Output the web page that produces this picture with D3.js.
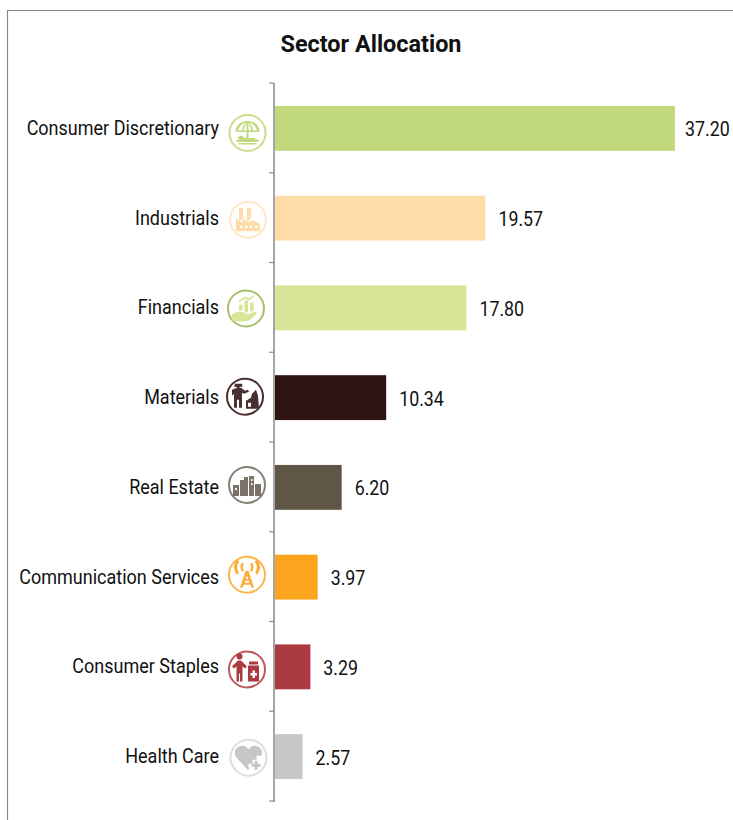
<!DOCTYPE html>
<html>
<head>
<meta charset="utf-8">
<script src="https://cdn.jsdelivr.net/npm/d3@7"></script>
<style>
  html, body { margin: 0; padding: 0; background: #fff; }
  svg { display: block; }
  text { font-family: "Roboto", "Liberation Sans", sans-serif; fill: #111; }
</style>
</head>
<body>
<div class="canvas"></div>
<script>
const sectors = [
  "Consumer Discretionary",
  "Industrials",
  "Financials",
  "Materials",
  "Real Estate",
  "Communication Services",
  "Consumer Staples",
  "Health Care"
];
const weights = [37.2, 19.57, 17.8, 10.34, 6.2, 3.97, 3.29, 2.57];
const labels = ["37.20", "19.57", "17.80", "10.34", "6.20", "3.97", "3.29", "2.57"];
const barColors = ["#c1d97a", "#fedca8", "#d8e597", "#301414", "#5f5646", "#fba51f", "#ab3a41", "#c6c8c7"];
const ringColors = ["#c9de8f", "#ffe6c6", "#a4bf6a", "#4a2f30", "#857e74", "#fbb64c", "#c0565c", "#dcdddc"];
const glyphColors = ["#c1d97a", "#fedca8", "#d8e597", "#4a2f30", "#7b7368", "#fbae3c", "#ab3a41", "#c6c8c7"];

const width = 733;
const height = 820;

// icon glyphs, drawn around the circle centre
const icons = [
  // umbrella and lounger
  "M-12 -1C-12 -8 -6 -12 0 -12C6 -12 12 -8 12 -1ZM-5.5 -2.5C-5 -6 -3.5 -9 -1.5 -10.5C-5 -9.5 -8.5 -6.5 -9.5 -2.5ZM-3.5 -2.5H-1V-10C-2.5 -8 -3.5 -5.5 -3.5 -2.5ZM1 -2.5H3.5C3.5 -5.5 2.5 -8 1 -10ZM5.5 -2.5H9.5C8.5 -6.5 5 -9.5 1.5 -10.5C3.5 -9 5 -6 5.5 -2.5ZM-1 -1H1V5H-1ZM-10 4L-6 2.5L-3 5H6L11 7V9H-11V7L-8 6.5ZM-9 10H9V11.5H-9Z",
  // factory
  "M-12 -1L-5 3V-1L1 3V-1L12 4V11.5H-12ZM-8 6V8H-5.5V6ZM-3 6V8H-0.5V6ZM2 6V8H4.5V6ZM7 6V8H9.5V6ZM-9 -12H-5V0H-9ZM-1 -12H3V2H-1Z",
  // hand with growth bars
  "M-14 6C-8 2 -3 3 1 6L7 4C10 3 12 5 9 7C5 11 0 14 -5 13L-14 12ZM-7 -4H-3.5V2H-7ZM-1.5 -8H2V4H-1.5ZM4 -6H7.5V3H4ZM-7 -8L-1 -12L3 -10L8 -14V-12L3 -8L-1 -10L-7 -6Z",
  // worker and rock
  "M-10 -13H-3L-2.5 -10H-4.5A3 3 0 0 1 -9 -10H-11ZM-13 -7L-8 -9H-4L0 -6L3 -7L4 -5L-1 -3L-3 -4V11H-6V3H-8V11H-11V-3L-13 -1ZM1 12V4L6 1L7 -3L11 -7L13 -1L14 12ZM3 10H6V6H3Z",
  // buildings
  "M-14 11V0H-8V11ZM-7 11V-5H-3V-8H1V11ZM2 11V-9H7V11ZM8 11V-1H14V11ZM-12 3H-10V5H-12ZM4 -6H5.5V-4H4ZM4 -2H5.5V0H4Z",
  // antenna
  "M-1.5 -4H1.5L7 13H4.5L3.5 10H-3.5L-4.5 13H-7ZM-2 6V8H2V6ZM-1 2V4H1V2ZM-5 -3C-7 -6 -7 -10 -5 -12L-3 -11C-4.5 -9 -4.5 -6 -3 -4ZM5 -3C7 -6 7 -10 5 -12L3 -11C4.5 -9 4.5 -6 3 -4ZM-10 0C-14 -5 -14 -11 -10 -15L-7.5 -13.5C-10.5 -10 -10.5 -5 -8 -2ZM10 0C14 -5 14 -11 10 -15L7.5 -13.5C10.5 -10 10.5 -5 8 -2Z",
  // person and jar
  "M-10.5 -13A3 3 0 0 1 -4.5 -13A3 3 0 0 1 -10.5 -13ZM-15 -3L-9 -9H-6L0 -3L-2 -1L-4.5 -3V12H-7V4H-8V12H-10.5V-3L-13 -1ZM2 -8H11V-5H2ZM1 -4H12V12H1ZM5.5 1V3.5H3.5V6H5.5V8.5H8V6H10V3.5H8V1Z",
  // heart with plus
  "M-1 12L-12 0C-16 -6 -12 -12 -6 -12C-3 -12 -1 -10 0 -8C1 -10 3 -12 6 -12C12 -12 15 -6 13 -2H8V2H4V6H0V10H2Z M6 3H9V6H12V9H9V12H6V9H3V6H6Z"
];
const iconNudge = [
  [1.5, 4.5], [2, 1.5], [0, 0.5], [-1, -1], [1, -2.5], [1, -2.5], [1, 2.5], [2.5, 1]
];

const svg = d3
  .select(".canvas")
  .append("svg")
  .attr("width", width)
  .attr("height", height);

// outer chart frame, cut by the window on the right and bottom
svg
  .append("path")
  .attr("d", "M7.5 820V10.5H733")
  .attr("fill", "none")
  .attr("stroke", "#8a8a8a")
  .attr("stroke-width", 1.2);

svg
  .append("text")
  .attr("x", 371)
  .attr("y", 52)
  .attr("text-anchor", "middle")
  .attr("font-size", 23)
  .attr("font-weight", 700)
  .attr("textLength", 181)
  .attr("lengthAdjust", "spacingAndGlyphs")
  .text("Sector Allocation");

const xScale = d3.scaleLinear().domain([0, 37.2]).range([275, 675]);
const yScale = d3.scaleBand().domain(sectors).range([83.5, 801.5]).paddingInner(0.5).paddingOuter(0.25);

// bars
svg
  .selectAll(".bar")
  .data(sectors)
  .enter()
  .append("rect")
  .attr("class", "bar")
  .attr("x", 274)
  .attr("y", (d) => yScale(d))
  .attr("width", (d, i) => xScale(weights[i]) - 274)
  .attr("height", yScale.bandwidth())
  .attr("fill", (d, i) => barColors[i]);

// axis line and ticks between categories
const step = yScale.step();
const tickEdges = d3.range(sectors.length + 1).map((i) => 83 + i * step);
svg
  .append("line")
  .attr("x1", 274)
  .attr("x2", 274)
  .attr("y1", 83)
  .attr("y2", 802)
  .attr("stroke", "#a6a6a6")
  .attr("stroke-width", 2);
svg
  .selectAll(".tick-mark")
  .data(tickEdges)
  .enter()
  .append("line")
  .attr("class", "tick-mark")
  .attr("x1", 269)
  .attr("x2", 274)
  .attr("y1", (d) => d)
  .attr("y2", (d) => d)
  .attr("stroke", "#8c8c8c")
  .attr("stroke-width", 1.2);

// sector names
svg
  .selectAll(".name")
  .data(sectors)
  .enter()
  .append("text")
  .attr("class", "name")
  .attr("x", 219)
  .attr("y", (d) => yScale(d) + yScale.bandwidth() / 2 + 6.5)
  .attr("text-anchor", "end")
  .attr("font-size", 20)
  .attr("transform", `translate(${219 * (1 - 0.9)},0) scale(0.9,1)`)
  .text((d) => d);

// values
const valueX = (i) => xScale(weights[i]) + (i === 0 ? 10 : 13);
svg
  .selectAll(".value")
  .data(sectors)
  .enter()
  .append("text")
  .attr("class", "value")
  .attr("x", (d, i) => valueX(i))
  .attr("y", (d) => yScale(d) + yScale.bandwidth() / 2 + 8)
  .attr("font-size", 20)
  .attr("transform", (d, i) => `translate(${valueX(i) * (1 - 0.89)},0) scale(0.89,1)`)
  .text((d, i) => labels[i]);

// icons
const icon = svg
  .selectAll(".icon")
  .data(sectors)
  .enter()
  .append("g")
  .attr("class", "icon")
  .attr("transform", (d, i) => {
    const cy = yScale(d) + yScale.bandwidth() / 2 + iconNudge[i][1];
    return `translate(${246 + iconNudge[i][0]},${cy})`;
  });
icon
  .append("circle")
  .attr("r", 18)
  .attr("fill", "#fff")
  .attr("stroke", (d, i) => ringColors[i])
  .attr("stroke-width", 2);
icon
  .append("path")
  .attr("d", (d, i) => icons[i])
  .attr("fill", (d, i) => glyphColors[i])
  .attr("fill-rule", "evenodd");
</script>
</body>
</html>
